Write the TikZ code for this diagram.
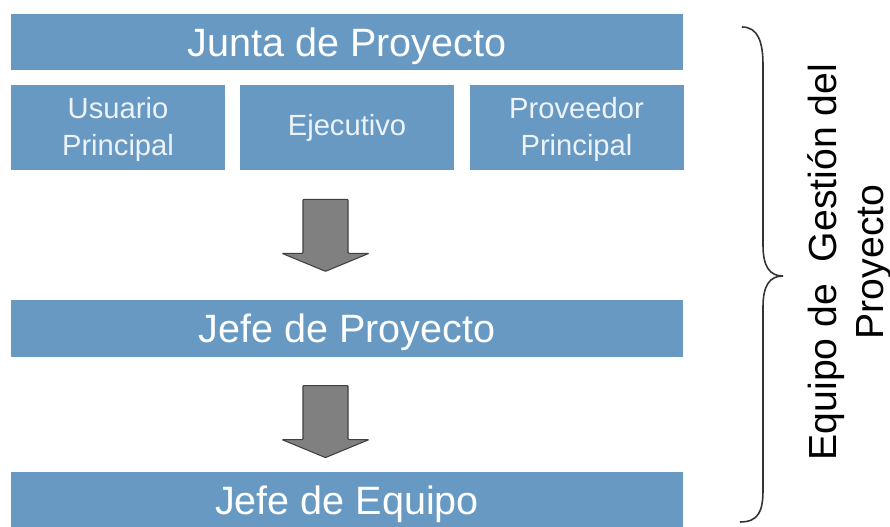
\documentclass[tikz,border=0pt]{standalone}
\usepackage{fontspec}
\setmainfont{Liberation Sans}
\usetikzlibrary{calc}
\definecolor{cajaazul}{RGB}{103,153,195}
\definecolor{flechagris}{RGB}{128,128,128}
\tikzstyle{caja} = [rectangle, 
minimum width=13.44cm, 
minimum height=1.13cm, 
inner sep=0pt, 
text height=16.1pt, 
text depth=0pt, 
fill=cajaazul, 
text=white, 
font=\fontsize{22.5}{27}\selectfont]
\tikzstyle{subcaja} = [rectangle, 
minimum width=4.28cm, 
minimum height=1.7cm, 
text width=4.28cm, 
align=center, 
inner sep=0pt, 
fill=cajaazul, 
text=white!88!cajaazul, 
font=\fontsize{16.6}{21}\selectfont]
\tikzstyle{flecha} = [fill=flechagris, draw=black!75, line width=0.6pt, rounded corners=0.5pt]
\tikzstyle{llave} = [draw=black!80, line width=0.9pt]

\begin{document}
\begin{tikzpicture}
    \useasboundingbox (0,0) rectangle (17.8,10.54);
    \node (junta) [caja] at (6.94,9.70) {Junta de Proyecto};
    \node (usuario) [subcaja] at (2.36,7.99) {\strut Usuario\\Principal};
    \node (ejecutivo) [subcaja] at (6.94,7.99) {Ejecutivo};
    \node (proveedor) [subcaja] at (11.53,7.99) {\strut Proveedor\\Principal};
    \node (jefeproy) [caja] at (6.94,3.97) {Jefe de Proyecto};
    \node (jefeequipo) [caja] at (6.94,0.53) {Jefe de Equipo};

    % Flechas
    \coordinate (f1) at ($(ejecutivo.south)+(-0.43,-0.58)$);
    \coordinate (f2) at ($(jefeproy.south)+(-0.43,-0.57)$);
    \draw [flecha] ($(f1)+(-0.45,0)$) -- ++(0.9,0) -- ++(0,-1.08) -- ++(0.42,0) -- ++(-0.87,-0.36) -- ++(-0.87,0.36) -- ++(0.42,0) -- cycle;
    \draw [flecha] ($(f2)+(-0.45,0)$) -- ++(0.9,0) -- ++(0,-1.08) -- ++(0.42,0) -- ++(-0.87,-0.36) -- ++(-0.87,0.36) -- ++(0.42,0) -- cycle;

    % Llave
    \draw [llave] (14.84,10.00) .. controls (15.16,10.00) and (15.26,9.70) .. (15.26,9.24) -- (15.26,5.64) .. controls (15.26,5.20) and (15.40,5.02) .. (15.66,5.02) .. controls (15.40,5.02) and (15.26,4.84) .. (15.26,4.40) -- (15.26,0.74) .. controls (15.26,0.30) and (15.16,0.10) .. (14.80,0.10);
    \node (equipo) [rotate=90, align=center, inner sep=0pt, font=\fontsize{22.3}{26.8}\selectfont] at (17.0,5.30) {Equipo de\ \ Gestión del\\Proyecto};
\end{tikzpicture}
\end{document}
